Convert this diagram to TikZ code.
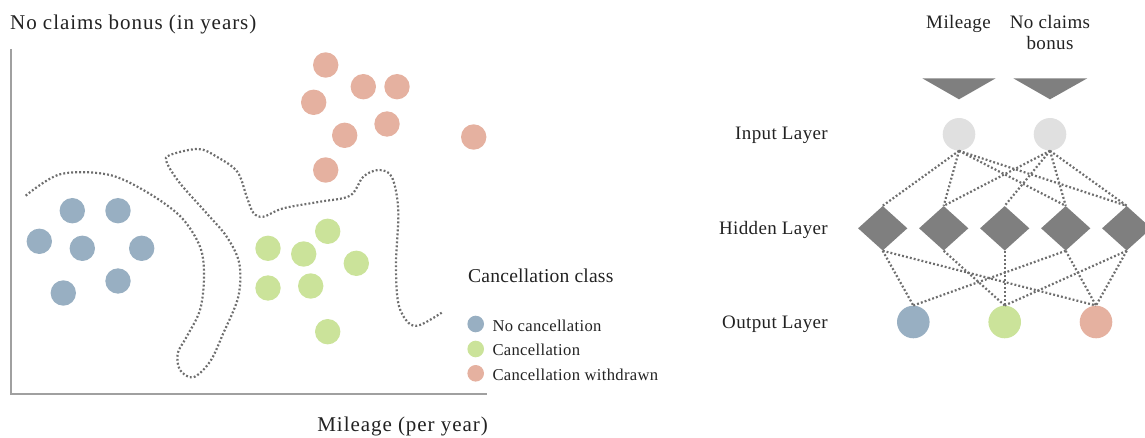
\documentclass[tikz,border=0pt]{standalone}
\usepackage{fontspec}
\setmainfont{Liberation Serif}
\usetikzlibrary{shapes.geometric}
\definecolor{cblue}{HTML}{98AFC2}
\definecolor{cgreen}{HTML}{CBE39A}
\definecolor{csalmon}{HTML}{E5B1A0}
\definecolor{cin}{HTML}{E0E0E0}
\definecolor{cdia}{HTML}{7F7F7F}
\definecolor{ctxt}{HTML}{222222}
\definecolor{caxis}{HTML}{A0A0A0}
\definecolor{cdot}{HTML}{6E6E6E}
\begin{document}
\begin{tikzpicture}[x=1pt,y=-1pt,
  lbl/.style={inner sep=0pt, text=ctxt},
  bigtxt/.style={lbl, font=\fontsize{21}{25}\selectfont\addfontfeatures{LetterSpace=4.5}},
  headtxt/.style={lbl, font=\fontsize{19.6}{23}\selectfont\addfontfeatures{LetterSpace=1}},
  itemtxt/.style={lbl, font=\fontsize{16.6}{20}\selectfont\addfontfeatures{LetterSpace=2}},
  nettxt/.style={lbl, font=\fontsize{19}{23}\selectfont\addfontfeatures{LetterSpace=2}},
  pt/.style={circle, minimum size=25.4pt, inner sep=0pt, draw=none},
  legdot/.style={circle, minimum size=16.6pt, inner sep=0pt, draw=none},
  netcirc/.style={circle, minimum size=32.6pt, inner sep=0pt, draw=none},
  hid/.style={diamond, minimum width=49.4pt, minimum height=44.6pt, inner sep=0pt, fill=cdia, draw=none},
  border/.style={draw=cdot, line width=2.2pt, dash pattern=on 1.9pt off 2.1pt},
  edge/.style={draw=cdot, line width=2.2pt, dash pattern=on 1.9pt off 2.1pt},
  axis/.style={draw=caxis, line width=1.2pt}
]
\useasboundingbox (0,0) rectangle (1145,438);

% axes
\draw[axis] (11,49) -- (11,394) -- (487,394);
\node[bigtxt, anchor=base west] (ytitle) at (10,29.3) {No claims bonus (in years)};
\node[bigtxt, anchor=base east] (xtitle) at (488,431.7) {Mileage (per year)};

% decision border
\draw[border] plot[smooth, tension=0.55] coordinates {
(25.7,195.7) (60,174.3) (106.7,174.3) (143.3,190) (180,216) (200,246.7) (204,276.7) (200,310) (186.7,336.7) (177.7,353.3) (180,370) (193.3,377.3) (210,361.7) (223.3,333.3) (238.3,296.7) (239.3,263.3) (226.7,236.7) (206.7,213.3) (180,183.3) (166.7,162.3) (170,155) (198.3,149) (216.7,156.7) (237.3,171.7) (246.7,196.7) (253.3,212.7) (263.3,216.7) (283.3,208.3) (320,201.7) (350,195.7) (363.3,176.7) (378.3,170) (391.7,176.7) (398.3,210) (396,263.3) (398.3,303.3) (408.3,322.7) (420,325) (441.7,312.7)};

% blue points
\node[pt, fill=cblue] (b1) at (72.3,210.7) {};
\node[pt, fill=cblue] (b2) at (118,210.7) {};
\node[pt, fill=cblue] (b3) at (39.3,241.3) {};
\node[pt, fill=cblue] (b4) at (82.3,248.3) {};
\node[pt, fill=cblue] (b5) at (141.7,248.3) {};
\node[pt, fill=cblue] (b6) at (118,281) {};
\node[pt, fill=cblue] (b7) at (63.3,293) {};
% green points
\node[pt, fill=cgreen] (g1) at (327.7,231.3) {};
\node[pt, fill=cgreen] (g2) at (268,248.3) {};
\node[pt, fill=cgreen] (g3) at (303.7,254) {};
\node[pt, fill=cgreen] (g4) at (356.3,263.3) {};
\node[pt, fill=cgreen] (g5) at (268,288) {};
\node[pt, fill=cgreen] (g6) at (310.7,286) {};
\node[pt, fill=cgreen] (g7) at (327.7,331.7) {};
% salmon points
\node[pt, fill=csalmon] (s1) at (325.7,65) {};
\node[pt, fill=csalmon] (s2) at (363.3,86.7) {};
\node[pt, fill=csalmon] (s3) at (397,86.7) {};
\node[pt, fill=csalmon] (s4) at (313.7,102.3) {};
\node[pt, fill=csalmon] (s5) at (387,124) {};
\node[pt, fill=csalmon] (s6) at (344.7,135.3) {};
\node[pt, fill=csalmon] (s7) at (473.7,137) {};
\node[pt, fill=csalmon] (s8) at (325.7,170) {};

% legend
\node[headtxt, anchor=base west] (leghead) at (468,282.3) {Cancellation class};
\node[legdot, fill=cblue] (l1) at (475.7,324) {};
\node[legdot, fill=cgreen] (l2) at (475.7,349) {};
\node[legdot, fill=csalmon] (l3) at (475.7,373.3) {};
\node[itemtxt, anchor=base west] (lt1) at (492.3,331.7) {No cancellation};
\node[itemtxt, anchor=base west] (lt2) at (492.3,355) {Cancellation};
\node[itemtxt, anchor=base west] (lt3) at (492.3,380) {Cancellation withdrawn};

% network labels
\node[nettxt, anchor=base east] (linput) at (828,140) {Input Layer};
\node[nettxt, anchor=base east] (lhidden) at (828,234.3) {Hidden Layer};
\node[nettxt, anchor=base east] (loutput) at (828,328.3) {Output Layer};
\node[nettxt, anchor=base] (fmile) at (958.5,28.3) {Mileage};
\node[nettxt, anchor=base] (fncb) at (1050,28.3) {No claims};
\node[nettxt, anchor=base] (fncb2) at (1050,50) {bonus};

% input triangles
\fill[cdia] (922.3,78.3) -- (995.7,78.3) -- (959,99.3) -- cycle;
\fill[cdia] (1013.3,78.3) -- (1087.3,78.3) -- (1050,99.3) -- cycle;

% nodes
\node[netcirc, fill=cin] (i1) at (959,134.3) {};
\node[netcirc, fill=cin] (i2) at (1050,134.3) {};
\node[hid] (h1) at (882.7,228.3) {};
\node[hid] (h2) at (943.7,228.3) {};
\node[hid] (h3) at (1004.7,228.3) {};
\node[hid] (h4) at (1065.7,228.3) {};
\node[hid] (h5) at (1126.7,228.3) {};
\node[netcirc, fill=cblue] (o1) at (913.3,322) {};
\node[netcirc, fill=cgreen] (o2) at (1004.7,322) {};
\node[netcirc, fill=csalmon] (o3) at (1096,322) {};

% edges
\foreach \a/\b in {i1/h1,i1/h2,i1/h4,i1/h5,i2/h2,i2/h3,i2/h4,i2/h5}
  \draw[edge] (\a.south) -- (\b.north);
\foreach \a/\b in {h1/o1,h1/o3,h2/o2,h3/o2,h4/o1,h4/o3,h5/o2,h5/o3}
  \draw[edge] (\a.south) -- (\b.north);
\end{tikzpicture}
\end{document}
